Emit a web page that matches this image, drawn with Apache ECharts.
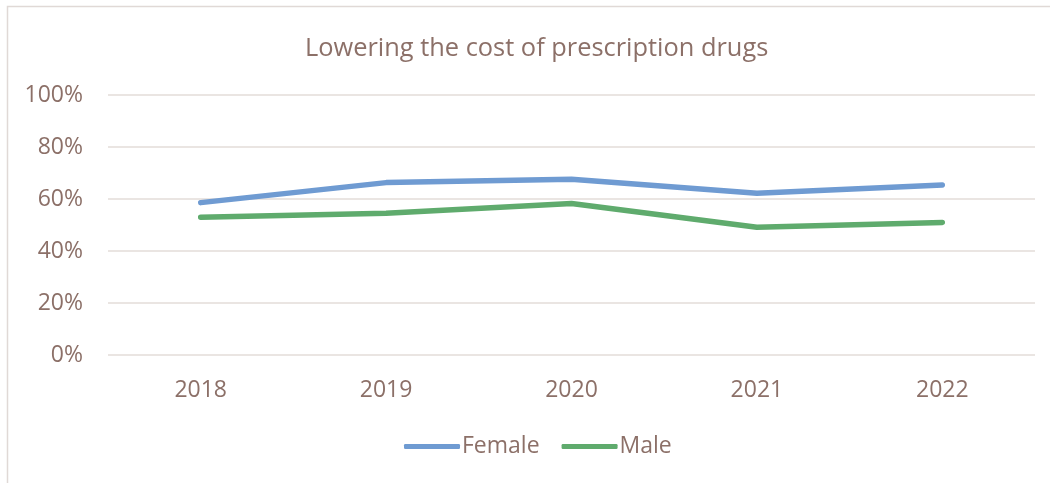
<!DOCTYPE html>
<html>
<head>
<meta charset="utf-8">
<script src="https://cdn.jsdelivr.net/npm/echarts@6/dist/echarts.min.js"></script>
<style>html,body{margin:0;padding:0;background:#fff;}#c{width:1050px;height:483px;}</style>
</head>
<body>
<div id="c"></div>
<script>
const categories = ['2018', '2019', '2020', '2021', '2022'];
const female = [58.6, 66.3, 67.6, 62.2, 65.4];
const male = [53.0, 54.5, 58.3, 49.1, 51.0];
const yTicks = [0, 20, 40, 60, 80, 100];

const textColor = '#8c7068';
const fontFamily = "'Open Sans', 'Noto Sans', sans-serif";
const chart = echarts.init(document.getElementById('c'));
chart.setOption({
  animation: false,
  textStyle: { fontFamily: fontFamily },
  graphic: [{
    type: 'rect',
    shape: { x: 7.5, y: 6.5, width: 1100, height: 600 },
    style: { fill: 'none', stroke: '#e0d9d6', lineWidth: 1.5 },
    z: 0
  }],
  title: {
    text: 'Lowering the cost of prescription drugs',
    left: 300,
    top: 31,
    textStyle: { color: textColor, fontSize: 25.4, fontWeight: 'normal', fontFamily: fontFamily }
  },
  legend: {
    bottom: 20,
    left: 399,
    itemWidth: 56,
    itemHeight: 5,
    itemGap: 22,
    icon: 'roundRect',
    textStyle: { color: textColor, fontSize: 23, fontFamily: fontFamily, padding: [0, 0, 0, -3] },
    data: ['Female', 'Male']
  },
  grid: { left: 108, right: 15, top: 95, bottom: 128, containLabel: false },
  xAxis: {
    type: 'category',
    data: categories,
    boundaryGap: true,
    axisLine: { show: false },
    axisTick: { show: false },
    axisLabel: { color: textColor, fontSize: 23, margin: 24, fontFamily: fontFamily }
  },
  yAxis: {
    type: 'value',
    min: yTicks[0],
    max: yTicks[yTicks.length - 1],
    interval: 20,
    axisLine: { show: false },
    axisTick: { show: false },
    splitLine: { lineStyle: { color: '#e3dcd9', width: 1.5 } },
    axisLabel: { color: textColor, fontSize: 23, margin: 25, formatter: v => v + '%', fontFamily: fontFamily }
  },
  series: [
    {
      name: 'Female', type: 'line', data: female, symbol: 'none',
      lineStyle: { color: '#6f9bd2', width: 5.5, cap: 'round', join: 'round' },
      itemStyle: { color: '#6f9bd2' }
    },
    {
      name: 'Male', type: 'line', data: male, symbol: 'none',
      lineStyle: { color: '#5fab6d', width: 5.5, cap: 'round', join: 'round' },
      itemStyle: { color: '#5fab6d' }
    }
  ]
});
</script>
</body>
</html>
